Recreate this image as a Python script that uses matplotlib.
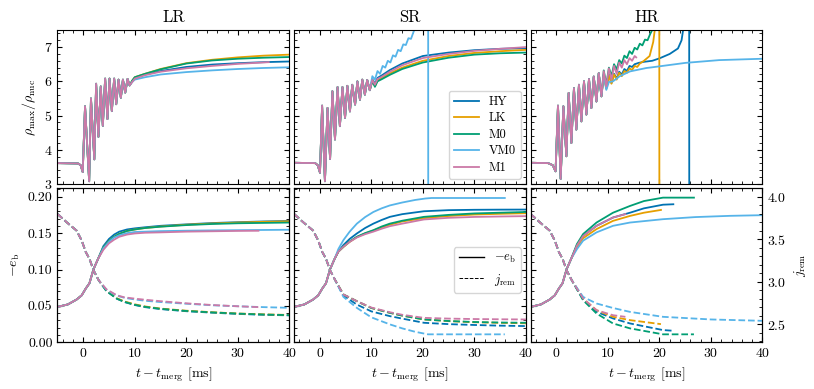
import matplotlib
matplotlib.use("Agg")
import matplotlib.pyplot as plt
from matplotlib.ticker import MultipleLocator, FormatStrFormatter
from matplotlib.lines import Line2D

plt.rcParams.update({
    "font.family": "serif",
    "font.serif": ["cmr10"],
    "mathtext.fontset": "cm",
    "axes.formatter.use_mathtext": True,
    "font.size": 10,
    "xtick.direction": "in",
    "ytick.direction": "in",
    "xtick.top": True,
    "ytick.right": True,
    "legend.fontsize": 9,
})

models = ["HY", "LK", "M0", "VM0", "M1"]
colors = ["#0072B2", "#E69F00", "#009E73", "#56B4E9", "#CC79A7"]
runs = ["LR", "SR", "HR"]

# ---------------- top row: rho_max / rho_nuc ----------------
# LR
lr_early_t = [-5, -1.0, -0.5, -0.1, 0.35, 1.15, 1.5, 2.15, 2.5, 2.95, 3.4, 3.8, 4.25, 4.7,
              5.1, 5.55, 6.0, 6.4, 6.85, 7.3, 7.7, 8.15, 8.6, 9.0]
lr_early_rho = [3.61, 3.6, 3.55, 3.35, 5.27, 3.08, 5.5, 3.72, 5.93, 4.38, 5.85, 4.7, 6.08, 4.9,
                6.08, 5.13, 6.08, 5.33, 6.05, 5.52, 6.05, 5.67, 6.07, 5.88]
lr_late_t = [9.5, 10, 12, 15, 20, 25, 30, 35, 40]
lr_rho_hy = [6.0, 6.1, 6.2, 6.3, 6.42, 6.49, 6.53, 6.56, 6.58]
lr_rho_lk = [6.02, 6.12, 6.22, 6.36, 6.53, 6.63, 6.7, 6.75, 6.78]
lr_rho_m0 = [6.02, 6.12, 6.22, 6.35, 6.52, 6.61, 6.66, 6.69, 6.71]
lr_rho_vm0 = [5.98, 6.05, 6.12, 6.2, 6.27, 6.32, 6.36, 6.39, 6.41]
lr_m1_t = [9.5, 10, 12, 15, 20, 25, 30, 36]
lr_rho_m1 = [5.98, 6.08, 6.18, 6.28, 6.38, 6.45, 6.51, 6.56]

# SR
sr_early_t = [-5, -0.9, -0.4, 0.04, 0.45, 1.0, 1.5, 2.0, 2.45, 2.95, 3.45, 3.9, 4.4, 4.9,
              5.35, 5.85, 6.3, 6.85, 7.3, 7.8, 8.25, 8.75, 9.2, 9.7]
sr_early_rho = [3.62, 3.61, 3.55, 3.33, 5.29, 3.08, 5.22, 3.73, 5.71, 4.3, 5.83, 4.69, 5.83, 4.93,
                5.87, 5.12, 5.9, 5.32, 6.0, 5.46, 6.05, 5.61, 6.04, 5.74]
sr_late_t = [10.2, 10.7, 11.2, 12, 13.6, 16, 20, 25, 30, 35, 40]
sr_rho_hy = [6.06, 5.93, 6.1, 6.17, 6.33, 6.52, 6.74, 6.84, 6.91, 6.95, 6.97]
sr_rho_lk = [6.02, 5.86, 6.03, 6.09, 6.23, 6.4, 6.6, 6.74, 6.83, 6.88, 6.92]
sr_rho_m0 = [6.0, 5.84, 6.0, 6.06, 6.19, 6.36, 6.55, 6.69, 6.78, 6.82, 6.84]
sr_rho_m1 = [6.04, 5.9, 6.07, 6.13, 6.28, 6.47, 6.68, 6.8, 6.89, 6.95, 7.0]
sr_vm0_t = [10.2, 10.7, 11.2, 11.7, 12.2, 12.7, 13.2, 13.7, 14.2, 14.7, 15.2, 15.7, 16.2, 16.7,
            17.2, 17.7, 18.2, 18.7, 19.5, 20.5, 21.0, 21.05]
sr_rho_vm0 = [6.15, 6.05, 6.3, 6.22, 6.45, 6.4, 6.6, 6.55, 6.76, 6.72, 6.92, 6.88, 7.08, 7.06,
              7.26, 7.24, 7.45, 7.6, 7.9, 8.5, 20.0, 0.0]

# HR
hr_early_t = [-5, -1.6, -0.7, -0.15, 0.32, 0.84, 1.37, 1.95, 2.39, 2.92, 3.42, 3.88, 4.39, 4.86,
              5.37, 5.83, 6.34, 6.8, 7.26, 7.78, 8.23, 8.75]
hr_early_rho = [3.62, 3.61, 3.55, 3.37, 5.29, 3.15, 5.27, 3.81, 5.66, 4.2, 5.8, 4.59, 5.9, 4.83,
                6.0, 5.03, 6.07, 5.22, 6.14, 5.41, 6.24, 5.56]
hr_hy_t = [9.2, 9.7, 10.2, 10.7, 11.2, 11.7, 12.2, 12.7, 13.2, 13.7, 14.2, 14.7, 15.2, 16, 17,
           18.6, 20, 22, 23.6, 24.3, 24.6, 25.0, 25.75, 25.8]
hr_rho_hy = [6.2, 5.8, 6.2, 5.95, 6.22, 6.08, 6.28, 6.2, 6.36, 6.3, 6.45, 6.42, 6.5, 6.54, 6.57,
             6.6, 6.67, 6.8, 6.96, 7.2, 7.5, 8.5, 20.0, 0.0]
hr_lk_t = [9.2, 9.7, 10.2, 10.7, 11.2, 11.7, 12.2, 12.7, 13.2, 13.7, 14.2, 14.7, 15.2, 15.7,
           16.2, 17, 18.1, 18.8, 19.1, 19.5, 19.95, 20.0]
hr_rho_lk = [6.18, 5.78, 6.18, 5.93, 6.2, 6.05, 6.25, 6.15, 6.3, 6.25, 6.38, 6.33, 6.45, 6.42,
             6.52, 6.6, 6.74, 7.15, 7.5, 9.0, 20.0, 0.0]
hr_m0_t = [9.2, 9.7, 10.2, 10.7, 11.2, 11.7, 12.2, 12.7, 13.2, 13.7, 14.2, 14.7, 15.2, 15.7,
           16.2, 16.7, 17.2, 17.7, 18.2, 18.6, 19.2]
hr_rho_m0 = [6.32, 5.9, 6.4, 6.15, 6.5, 6.35, 6.62, 6.52, 6.75, 6.68, 6.88, 6.8, 6.98, 6.93,
             7.1, 7.05, 7.22, 7.2, 7.38, 7.5, 7.9]
hr_vm0_t = [9.2, 9.7, 10.2, 11, 12.3, 14.3, 17.5, 18.6, 25.1, 31.6, 40]
hr_rho_vm0 = [6.2, 5.75, 5.98, 6.0, 6.15, 6.29, 6.39, 6.41, 6.54, 6.62, 6.66]
hr_m1_t = [9.2, 9.7, 10.2, 10.7, 11.2, 11.7, 12.2, 12.7, 13.2, 13.7, 14.2, 14.7, 15.2, 15.5]
hr_rho_m1 = [6.3, 5.85, 6.38, 6.05, 6.45, 6.22, 6.55, 6.4, 6.62, 6.5, 6.68, 6.6, 6.74, 6.7]

# ---------------- bottom row: -e_b (solid) and j_rem (dashed) ----------------
eb_pre_t = [-5, -3, -1.3, -0.3, 0.5, 1.2, 2.0, 2.9]
eb_pre = [0.0486, 0.052, 0.0587, 0.0645, 0.074, 0.081, 0.1005, 0.115]
j_pre_t = [-5, -3.2, -1.3, -0.3, 0.5, 1.2, 2.0, 3.0]
j_pre = [3.797, 3.698, 3.601, 3.484, 3.347, 3.27, 3.133, 3.016]

# LR
lr_eb_t = [3.9, 5, 6, 7, 8.5, 10, 12, 15, 20, 25, 30, 35, 40]
lr_eb_hy = [0.132, 0.142, 0.148, 0.152, 0.155, 0.1565, 0.158, 0.16, 0.162, 0.1638, 0.165, 0.166, 0.1667]
lr_eb_lk = [0.13, 0.139, 0.145, 0.149, 0.153, 0.155, 0.157, 0.159, 0.1615, 0.1632, 0.1645, 0.1655, 0.1662]
lr_eb_m0 = [0.13, 0.139, 0.145, 0.149, 0.153, 0.155, 0.157, 0.1588, 0.161, 0.1625, 0.1635, 0.164, 0.1645]
lr_eb_vm0 = [0.129, 0.138, 0.144, 0.147, 0.15, 0.1515, 0.152, 0.1527, 0.1533, 0.1537, 0.154, 0.1543, 0.1546]
lr_eb_m1_t = [3.9, 5, 6, 7, 8.5, 10, 12, 15, 20, 25, 30, 34]
lr_eb_m1 = [0.127, 0.136, 0.141, 0.145, 0.148, 0.1495, 0.1505, 0.151, 0.152, 0.1525, 0.153, 0.1532]

lr_j_t = [4.5, 6.5, 8, 10, 12, 15, 20, 25, 30, 35, 40]
lr_j_hy = [2.89, 2.8, 2.76, 2.725, 2.7, 2.677, 2.652, 2.635, 2.62, 2.61, 2.603]
lr_j_lk = [2.895, 2.805, 2.767, 2.733, 2.708, 2.683, 2.658, 2.64, 2.625, 2.615, 2.608]
lr_j_m0 = [2.89, 2.8, 2.762, 2.728, 2.704, 2.68, 2.655, 2.638, 2.624, 2.613, 2.606]
lr_j_vm0 = [2.905, 2.835, 2.81, 2.79, 2.775, 2.76, 2.74, 2.722, 2.71, 2.7, 2.692]
lr_j_m1_t = [4.5, 6.5, 8, 10, 12, 15, 20, 25, 30, 34]
lr_j_m1 = [2.91, 2.84, 2.815, 2.8, 2.787, 2.77, 2.745, 2.725, 2.71, 2.7]

# SR
sr_eb_t = [3.6, 4.6, 5.8, 7.2, 8.8, 10.4, 12, 13.6, 16, 20.2, 25, 30, 35, 40]
sr_eb_hy = [0.1245, 0.1337, 0.142, 0.1495, 0.157, 0.163, 0.168, 0.1723, 0.176, 0.18, 0.1815, 0.182, 0.1822, 0.1823]
sr_eb_lk = [0.1245, 0.131, 0.138, 0.1445, 0.1495, 0.1535, 0.158, 0.1615, 0.166, 0.1705, 0.1735, 0.1755, 0.1765, 0.1773]
sr_eb_m0 = [0.1245, 0.1314, 0.1385, 0.145, 0.15, 0.154, 0.159, 0.163, 0.167, 0.1723, 0.175, 0.177, 0.178, 0.179]
sr_eb_m1 = [0.1245, 0.1314, 0.138, 0.144, 0.1485, 0.152, 0.156, 0.1595, 0.163, 0.1687, 0.171, 0.1722, 0.1728, 0.1733]
sr_eb_vm0_t = [3.6, 4.6, 5.8, 7.2, 8.8, 10.4, 12, 13.6, 16, 18.5, 20.5, 21.7, 35.9]
sr_eb_vm0 = [0.128, 0.1405, 0.152, 0.163, 0.172, 0.179, 0.184, 0.188, 0.192, 0.1955, 0.1975, 0.1982, 0.1982]

sr_j_t = [4.6, 7.2, 10, 13.6, 16, 20.2, 25, 30, 35, 40]
sr_j_hy = [2.835, 2.73, 2.65, 2.594, 2.565, 2.516, 2.5, 2.49, 2.482, 2.477]
sr_j_lk = [2.848, 2.77, 2.69, 2.633, 2.6, 2.555, 2.535, 2.522, 2.515, 2.51]
sr_j_m0 = [2.848, 2.77, 2.69, 2.633, 2.6, 2.555, 2.537, 2.525, 2.519, 2.516]
sr_j_m1 = [2.848, 2.77, 2.695, 2.64, 2.61, 2.574, 2.565, 2.56, 2.557, 2.555]
sr_j_vm0_t = [4.6, 7.2, 10, 13.6, 16, 18.5, 21, 35.9]
sr_j_vm0 = [2.82, 2.691, 2.58, 2.497, 2.45, 2.41, 2.38, 2.38]

# HR
hr_eb_hy_t = [4.0, 5.2, 7.8, 11, 14.3, 17, 20.7, 22.7]
hr_eb_hy = [0.133, 0.146, 0.16, 0.1714, 0.178, 0.184, 0.189, 0.1896]
hr_eb_lk_t = [4.0, 5.2, 7.8, 11, 14.3, 17, 20.3]
hr_eb_lk = [0.131, 0.143, 0.1555, 0.1668, 0.1736, 0.178, 0.1818]
hr_eb_m0_t = [4.0, 5.2, 7.8, 11, 14.3, 17, 20.7, 26.7]
hr_eb_m0 = [0.135, 0.1487, 0.1645, 0.178, 0.1873, 0.194, 0.1987, 0.1987]
hr_eb_vm0_t = [4.0, 5.2, 7.8, 11, 14.3, 20.7, 27, 33.7, 40]
hr_eb_vm0 = [0.128, 0.1396, 0.151, 0.16, 0.1645, 0.1691, 0.172, 0.1737, 0.1746]
hr_eb_m1_t = [4.0, 5.2, 7.8, 11, 13.4]
hr_eb_m1 = [0.133, 0.146, 0.16, 0.1714, 0.176]

hr_j_hy_t = [5.2, 7.8, 11, 14.3, 20.7, 22.7]
hr_j_hy = [2.79, 2.645, 2.567, 2.508, 2.43, 2.422]
hr_j_lk_t = [5.2, 7.8, 11, 14.3, 20.3]
hr_j_lk = [2.8, 2.664, 2.586, 2.547, 2.5]
hr_j_m0_t = [5.2, 7.8, 11, 14.3, 20.7, 26.7]
hr_j_m0 = [2.781, 2.625, 2.508, 2.45, 2.38, 2.38]
hr_j_vm0_t = [5.2, 7.8, 11, 14.3, 20.7, 30, 40]
hr_j_vm0 = [2.82, 2.743, 2.69, 2.644, 2.586, 2.555, 2.539]
hr_j_m1_t = [5.2, 7.8, 11, 13.4]
hr_j_m1 = [2.8, 2.664, 2.605, 2.586]

# --- assemble per panel (model order HY, LK, M0, VM0, M1) ---
rho_series = [
    (lr_early_t, lr_early_rho, [(lr_late_t, lr_rho_hy), (lr_late_t, lr_rho_lk), (lr_late_t, lr_rho_m0),
                                (lr_late_t, lr_rho_vm0), (lr_m1_t, lr_rho_m1)]),
    (sr_early_t, sr_early_rho, [(sr_late_t, sr_rho_hy), (sr_late_t, sr_rho_lk), (sr_late_t, sr_rho_m0),
                                (sr_vm0_t, sr_rho_vm0), (sr_late_t, sr_rho_m1)]),
    (hr_early_t, hr_early_rho, [(hr_hy_t, hr_rho_hy), (hr_lk_t, hr_rho_lk), (hr_m0_t, hr_rho_m0),
                                (hr_vm0_t, hr_rho_vm0), (hr_m1_t, hr_rho_m1)]),
]
eb_series = [
    [(lr_eb_t, lr_eb_hy), (lr_eb_t, lr_eb_lk), (lr_eb_t, lr_eb_m0), (lr_eb_t, lr_eb_vm0), (lr_eb_m1_t, lr_eb_m1)],
    [(sr_eb_t, sr_eb_hy), (sr_eb_t, sr_eb_lk), (sr_eb_t, sr_eb_m0), (sr_eb_vm0_t, sr_eb_vm0), (sr_eb_t, sr_eb_m1)],
    [(hr_eb_hy_t, hr_eb_hy), (hr_eb_lk_t, hr_eb_lk), (hr_eb_m0_t, hr_eb_m0), (hr_eb_vm0_t, hr_eb_vm0),
     (hr_eb_m1_t, hr_eb_m1)],
]
j_series = [
    [(lr_j_t, lr_j_hy), (lr_j_t, lr_j_lk), (lr_j_t, lr_j_m0), (lr_j_t, lr_j_vm0), (lr_j_m1_t, lr_j_m1)],
    [(sr_j_t, sr_j_hy), (sr_j_t, sr_j_lk), (sr_j_t, sr_j_m0), (sr_j_vm0_t, sr_j_vm0), (sr_j_t, sr_j_m1)],
    [(hr_j_hy_t, hr_j_hy), (hr_j_lk_t, hr_j_lk), (hr_j_m0_t, hr_j_m0), (hr_j_vm0_t, hr_j_vm0),
     (hr_j_m1_t, hr_j_m1)],
]

fig, axes = plt.subplots(2, 3, figsize=(8.14, 3.89), dpi=100, sharex=True)
fig.subplots_adjust(left=0.0706, right=0.9367, top=0.9229, bottom=0.12, wspace=0.02, hspace=0.028)

E_LIM = (0.0, 0.2115)
J_LIM = (2.286, 4.098)
LW = 1.3

for col in range(3):
    ax = axes[0, col]
    early_t, early_rho, late = rho_series[col]
    for (lt, lr), name, c in zip(late, models, colors):
        ax.plot(early_t + lt, early_rho + lr, color=c, lw=LW, label=name)
    ax.set_xlim(-5, 40)
    ax.set_ylim(3, 7.5)
    ax.set_title(runs[col], fontsize=12)
    ax.yaxis.set_major_locator(MultipleLocator(1))
    ax.yaxis.set_minor_locator(MultipleLocator(0.2))
    ax.xaxis.set_major_locator(MultipleLocator(10))
    ax.xaxis.set_minor_locator(MultipleLocator(2))
    ax.tick_params(which="both", top=True, right=True)
    if col > 0:
        ax.tick_params(labelleft=False)

    axb = axes[1, col]
    axj = axb.twinx()
    for (et, ev), (jt, jv), c in zip(eb_series[col], j_series[col], colors):
        axb.plot(eb_pre_t + et, eb_pre + ev, color=c, lw=LW)
        axj.plot(j_pre_t + jt, j_pre + jv, color=c, lw=LW, ls="--")
    axb.set_ylim(*E_LIM)
    axj.set_ylim(*J_LIM)
    axb.yaxis.set_major_locator(MultipleLocator(0.05))
    axb.yaxis.set_minor_locator(MultipleLocator(0.01))
    axb.yaxis.set_major_formatter(FormatStrFormatter("%.2f"))
    axj.yaxis.set_major_locator(MultipleLocator(0.5))
    axj.yaxis.set_minor_locator(MultipleLocator(0.1))
    axj.tick_params(which="both", direction="in")
    axb.set_xlabel(r"$t - t_{\rm merg}$ [ms]")
    if col > 0:
        axb.tick_params(labelleft=False)
    if col < 2:
        axj.tick_params(which="both", right=False, labelright=False)
        axb.tick_params(which="both", top=True, right=True)
    else:
        axb.tick_params(which="both", top=True, right=False)
        axj.set_ylabel(r"$j_{\rm rem}$")

    if col == 1:
        axes[0, 1].legend(loc="lower right", handlelength=2.0, labelspacing=0.35, borderaxespad=0.4)
        h = [Line2D([], [], color="k", lw=1.0, ls="-"),
             Line2D([], [], color="k", lw=0.7, ls="--")]
        axb.legend(h, [r"$-e_{\rm b}$", r"$j_{\rm rem}$"], loc="center right",
                   bbox_to_anchor=(1.0, 0.47), borderaxespad=0.4)

axes[0, 0].set_ylabel(r"$\rho_{\rm max}/\rho_{\rm nuc}$")
axes[1, 0].set_ylabel(r"$-e_{\rm b}$")

fig.savefig("out.png", dpi=100)
